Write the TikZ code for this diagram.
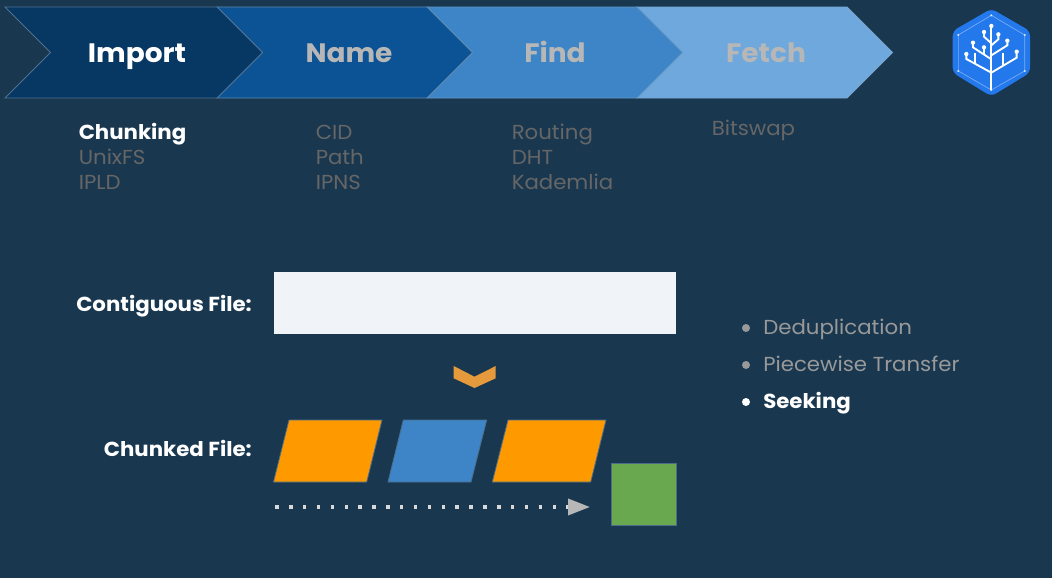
\documentclass[tikz,border=0pt]{standalone}
\usepackage{fontspec}
\usepackage{xcolor}
\usetikzlibrary{arrows.meta}
\setmainfont[FakeStretch=1.05]{Poppins}
\definecolor{slidebg}{HTML}{193850}
\definecolor{stepA}{HTML}{073763}
\definecolor{stepB}{HTML}{0B5394}
\definecolor{stepC}{HTML}{3D85C6}
\definecolor{stepD}{HTML}{6FA8DC}
\definecolor{edgeblue}{HTML}{4A6D8C}
\definecolor{edgeA}{HTML}{4F7090}
\definecolor{edgeB}{HTML}{5F8AB0}
\definecolor{edgeC}{HTML}{6396C8}
\definecolor{edgeD}{HTML}{7AA9D4}
\definecolor{fadedtext}{HTML}{666666}
\definecolor{paletext}{HTML}{B7B7B7}
\definecolor{bullettext}{HTML}{999999}
\definecolor{filewhite}{HTML}{F0F4F8}
\definecolor{dotwhite}{HTML}{D9D9D9}
\definecolor{chunkorange}{HTML}{FF9900}
\definecolor{chunkgreen}{HTML}{6AA84F}
\definecolor{chevronorange}{HTML}{E69A3C}
\definecolor{logoblue}{HTML}{2378EC}
\begin{document}
\begin{tikzpicture}[x=.75pt,y=-.75pt,
    steptext/.style = {font=\fontsize{20}{24}\selectfont\bfseries, anchor=base},
    listtext/.style = {font=\fontsize{15.2}{18}\selectfont, anchor=base west, text=fadedtext, inner sep=0pt},
    listbold/.style = {listtext, font=\fontsize{15.2}{18}\selectfont\bfseries, text=white},
    filetext/.style = {font=\fontsize{15.2}{18}\selectfont\bfseries, anchor=base east, text=white, inner sep=0pt},
    dotitem/.style = {circle, fill=#1, inner sep=0pt, minimum size=6pt},
    chunk/.style = {draw=edgeblue, line width=.6pt, fill=#1},
    logoline/.style = {white, line width=1.4pt}]

  \fill[slidebg] (0,0) rectangle (1052,578);

  % process arrow
  \foreach \xl/\xr/\col/\edge in {637/847/stepD/edgeD, 427/637/stepC/edgeC, 217/427/stepB/edgeB, 5/217/stepA/edgeA}
    \draw[\edge, line width=.7pt, fill=\col] (\xl,7) -- (\xr,7) -- (\xr+45.5,52.5) -- (\xr,98)
      -- (\xl,98) -- (\xl+45.5,52.5) -- cycle;
  \node[steptext, text=white] (import) at (137,62) {Import};
  \node[steptext, text=paletext] (name) at (349,62) {Name};
  \node[steptext, text=paletext] (find) at (555,62) {Find};
  \node[steptext, text=paletext] (fetch) at (766,62) {Fetch};

  % topics below each step
  \node[listbold] (chunking) at (78.5,139) {Chunking};
  \node[listtext] (unixfs) at (78.5,164) {UnixFS};
  \node[listtext] (ipld) at (78.5,189) {IPLD};
  \node[listtext] (cid) at (315.5,139) {CID};
  \node[listtext] (path) at (315.5,164) {Path};
  \node[listtext] (ipns) at (315.5,189) {IPNS};
  \node[listtext] (routing) at (511.5,139) {Routing};
  \node[listtext] (dht) at (511.5,164) {DHT};
  \node[listtext] (kademlia) at (511.5,189) {Kademlia};
  \node[listtext] (bitswap) at (711.5,135) {Bitswap};

  % files
  \node[filetext] (contiguous) at (252,311) {Contiguous File:};
  \node[filetext] (chunked) at (252,456) {Chunked File:};
  \fill[filewhite] (274,272) rectangle (676,334);
  \fill[chevronorange] (453.7,366) -- (474.5,376.7) -- (495.7,366) -- (495.7,378.3)
    -- (474.5,388) -- (453.7,378.3) -- cycle;
  \draw[chunk=chunkorange] (273.5,482) -- (289,420) -- (382,420) -- (366.7,482) -- cycle;
  \draw[chunk=stepC] (388,482) -- (403.3,420) -- (486.7,420) -- (471,482) -- cycle;
  \draw[chunk=chunkorange] (492.3,482) -- (508,420) -- (606,420) -- (590.7,482) -- cycle;
  \draw[chunk=chunkgreen] (611.7,463.3) rectangle (676.3,525.7);
  \coordinate (dotstart) at (275.2,507);
  \coordinate (dotend) at (590,507);
  \draw[dotwhite, line width=2.6pt, dash pattern=on 2.6pt off 7.8pt,
    -{Triangle[length=16.5pt,width=12pt,color=paletext,fill=paletext]}] (dotstart) -- (dotend);

  % right hand list
  \node[dotitem=bullettext] (dotA) at (746,328) {};
  \node[dotitem=bullettext] (dotB) at (746,365) {};
  \node[dotitem=white] (dotC) at (746,402) {};
  \node[listtext, text=bullettext] (dedup) at (763,334) {Deduplication};
  \node[listtext, text=bullettext] (piecewise) at (763,371) {Piecewise Transfer};
  \node[listbold] (seeking) at (763,408) {Seeking};

  % logo
  \begin{scope}[shift={(930,0)}, x=.25pt, y=-.25pt]
    \fill[logoblue, rounded corners=4pt]
      (184,26) -- (300,93) -- (300,218) -- (184,289) -- (68,218) -- (68,93) -- cycle;
    \draw[white!40!logoblue, line width=.5pt] (184,46) -- (284,105) -- (284,213) -- (184,270)
      -- (85,213) -- (85,105) -- cycle;
    \foreach \px/\py in {184/46, 284/105, 284/213, 184/270, 85/213, 85/105}
      \fill[white!85!logoblue] (\px,\py) circle (3.4);
    \draw[logoline] (184,270) -- (184,78);
    \draw[logoline] (109,162) -- (109,177) -- (184,218) -- (260,173) -- (260,155);
    \draw[logoline] (129,128) -- (129,142) -- (184,178);
    \draw[logoline] (162,142) -- (162,165);
    \draw[logoline] (136,158) -- (136,190);
    \draw[logoline] (232,122) -- (232,136) -- (184,166);
    \draw[logoline] (220,160) -- (220,195);
    \draw[logoline] (162,96) -- (162,110) -- (184,130);
    \draw[logoline] (205,103) -- (205,118) -- (184,136);
    \foreach \px/\py in {184/78, 162/96, 205/103, 232/122, 129/128, 162/142, 109/162, 260/155}
      \fill[white] (\px,\py) circle (6.5);
  \end{scope}
\end{tikzpicture}
\end{document}
